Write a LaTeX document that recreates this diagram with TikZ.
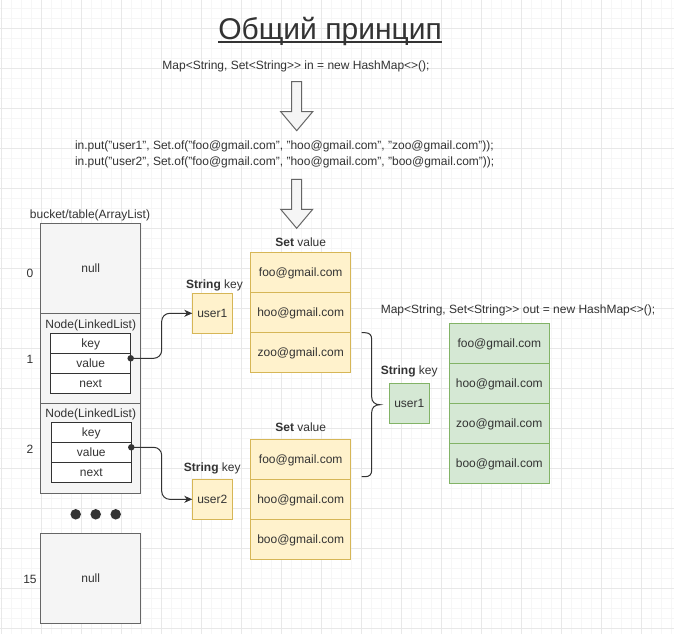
\documentclass[tikz,border=0pt]{standalone}
\usepackage{fontspec}
\setmainfont{Liberation Sans}
\usetikzlibrary{arrows.meta}
\definecolor{ink}{HTML}{333333}
\definecolor{grayfill}{HTML}{F5F5F5}
\definecolor{graystroke}{HTML}{666666}
\definecolor{yfill}{HTML}{FFF2CC}
\definecolor{ystroke}{HTML}{D6B656}
\definecolor{gfill}{HTML}{D5E8D4}
\definecolor{gstroke}{HTML}{82B366}
\definecolor{gridmajor}{HTML}{E8E8E8}
\definecolor{gridminor}{HTML}{F6F6F6}
\newcommand\ftw{\fontsize{12pt}{14pt}\selectfont}
\newcommand\fttitle{\fontsize{30pt}{35pt}\selectfont}
\begin{document}
\begin{tikzpicture}[x=1pt,y=-1pt,
  every node/.style={inner sep=0pt, outer sep=0pt, text=ink, font=\ftw, text height=8.4pt, text depth=0pt},
  graybox/.style={draw=graystroke, fill=grayfill, line width=1pt, minimum width=100pt, minimum height=90pt},
  field/.style={draw=ink, fill=white, line width=1pt, minimum width=80pt, minimum height=20pt},
  yrow/.style={draw=ystroke, fill=yfill, line width=1pt, minimum width=100pt, minimum height=40pt},
  ykey/.style={draw=ystroke, fill=yfill, line width=1pt, minimum width=40pt, minimum height=40pt},
  grnrow/.style={draw=gstroke, fill=gfill, line width=1pt, minimum width=100pt, minimum height=40pt},
  gkey/.style={draw=gstroke, fill=gfill, line width=1pt, minimum width=40pt, minimum height=40pt},
  conn/.style={draw=ink, line width=1pt, rounded corners=8pt, -{Stealth[length=8pt,width=7pt,inset=2.5pt]}},
  dotnode/.style={circle, fill=ink, minimum size=6.5pt, text height=0pt},
  bigdot/.style={circle, fill=ink, minimum size=10.5pt, text height=0pt},
  barrow/.style={draw=graystroke, fill=grayfill, line width=1pt, line join=miter},
  brace/.style={draw=ink, line width=1pt},
  minorgrid/.style={draw=gridminor, line width=1pt},
  majorgrid/.style={draw=gridmajor, line width=1pt}
]
\useasboundingbox (0,0) rectangle (674,634);
\fill[white] (0,0) rectangle (674,634);
% grid
\foreach \x in {1.5,11.5,...,671.5} \draw[minorgrid] (\x,0) -- (\x,634);
\foreach \y in {8.5,18.5,...,628.5} \draw[minorgrid] (0,\y) -- (674,\y);
\foreach \x in {1.5,41.5,...,641.5} \draw[majorgrid] (\x,0) -- (\x,634);
\foreach \y in {28.5,68.5,...,628.5} \draw[majorgrid] (0,\y) -- (674,\y);

% title
\node[font=\fttitle, text height=21.5pt] (title) at (330,28.3) {Общий принцип};
\draw[ink, line width=2pt] ([yshift=-3.4pt]title.south west) -- ([yshift=-3.4pt]title.south east);

% code lines
\node (mapin) at (296,65.5) {Map<String, Set<String>{}> in = new HashMap<>();};
\draw[barrow] (291.7,81.7) -- (301.7,81.7) -- (301.7,111.7) -- (312.7,111.7) -- (296.7,130.7) -- (280.7,111.7) -- (291.7,111.7) -- cycle;
\node[anchor=west] (put1) at (75,145) {in.put("user1", Set.of("foo@gmail.com", "hoo@gmail.com", "zoo@gmail.com"));};
\node[anchor=west] (put2) at (75,161.7) {in.put("user2", Set.of("foo@gmail.com", "hoo@gmail.com", "boo@gmail.com"));};
\draw[barrow] (291.7,179.3) -- (301.7,179.3) -- (301.7,209.3) -- (312.7,209.3) -- (296.7,228.3) -- (280.7,209.3) -- (291.7,209.3) -- cycle;

% bucket table
\node (bucketlbl) at (90,214.3) {bucket/table(ArrayList)};
\node[graybox] (null0) at (90.7,268.3) {null};
\node[graybox] (nd1) at (90.7,358.3) {};
\node[graybox] (nd2) at (90.7,448.3) {};
\node (nd1t) at (90.7,324) {Node(LinkedList)};
\node (nd2t) at (90.7,413.3) {Node(LinkedList)};
\node[field] (k1) at (90.7,343.3) {key};
\node[field] (v1) at (90.7,363.3) {value};
\node[field] (n1) at (90.7,383.3) {next};
\node[field] (k2) at (91.3,432.3) {key};
\node[field] (v2) at (91.3,452.3) {value};
\node[field] (n2) at (91.3,472.3) {next};
\node[graybox] (null15) at (90.7,578.3) {null};
\node (i0) at (30,273) {0};
\node (i1) at (30,359.3) {1};
\node (i2) at (30,449) {2};
\node (i15) at (30,579) {15};
\node[bigdot] (dA) at (75.7,514.3) {};
\node[bigdot] (dB) at (95.7,514.3) {};
\node[bigdot] (dC) at (115.7,514.3) {};

% keys
\node (sk1) at (214.5,284) {\textbf{String} key};
\node[ykey] (u1) at (212.3,313.3) {user1};
\node (sk2) at (212.3,467.7) {\textbf{String} key};
\node[ykey] (u2) at (212.3,499.3) {user2};

% connectors
\node[dotnode] (d1) at ([yshift=5pt]v1.east) {};
\node[dotnode] (d2) at ([yshift=5pt]v2.east) {};
\coordinate (j1) at (161.7,340);
\coordinate (j2) at (161.7,470);
\draw[conn] (d1.center) -| (j1) |- (u1.west);
\draw[conn] (d2.center) -| (j2) |- (u2.west);

% set values
\node (sv1) at (300.7,242.7) {\textbf{Set} value};
\node[yrow] (s1a) at (300.7,272.3) {foo@gmail.com};
\node[yrow] (s1b) at (300.7,312.3) {hoo@gmail.com};
\node[yrow] (s1c) at (300.7,352.3) {zoo@gmail.com};
\node (sv2) at (300.7,427.7) {\textbf{Set} value};
\node[yrow] (s2a) at (300.7,459.3) {foo@gmail.com};
\node[yrow] (s2b) at (300.7,499.3) {hoo@gmail.com};
\node[yrow] (s2c) at (300.7,539.3) {boo@gmail.com};

% brace
\draw[brace] (361.7,332.7) -- (365,332.7) .. controls (369.5,332.7) and (371.7,335) .. (371.7,339.5)
  -- (371.7,397) .. controls (371.7,402) and (375,404.7) .. (380,404.7)
  .. controls (375,404.7) and (371.7,407.4) .. (371.7,412.4)
  -- (371.7,470) .. controls (371.7,474.5) and (369.5,476.7) .. (365,476.7) -- (361.7,476.7);

% output map
\node (mapout) at (518,309) {Map<String, Set<String>{}> out = new HashMap<>();};
\node (gsk) at (409.3,370) {\textbf{String} key};
\node[gkey] (gu) at (409.3,403.3) {user1};
\node[grnrow] (ga) at (499.3,343.3) {foo@gmail.com};
\node[grnrow] (gb) at (499.3,383.3) {hoo@gmail.com};
\node[grnrow] (gc) at (499.3,423.3) {zoo@gmail.com};
\node[grnrow] (gd) at (499.3,463.3) {boo@gmail.com};
\end{tikzpicture}
\end{document}
